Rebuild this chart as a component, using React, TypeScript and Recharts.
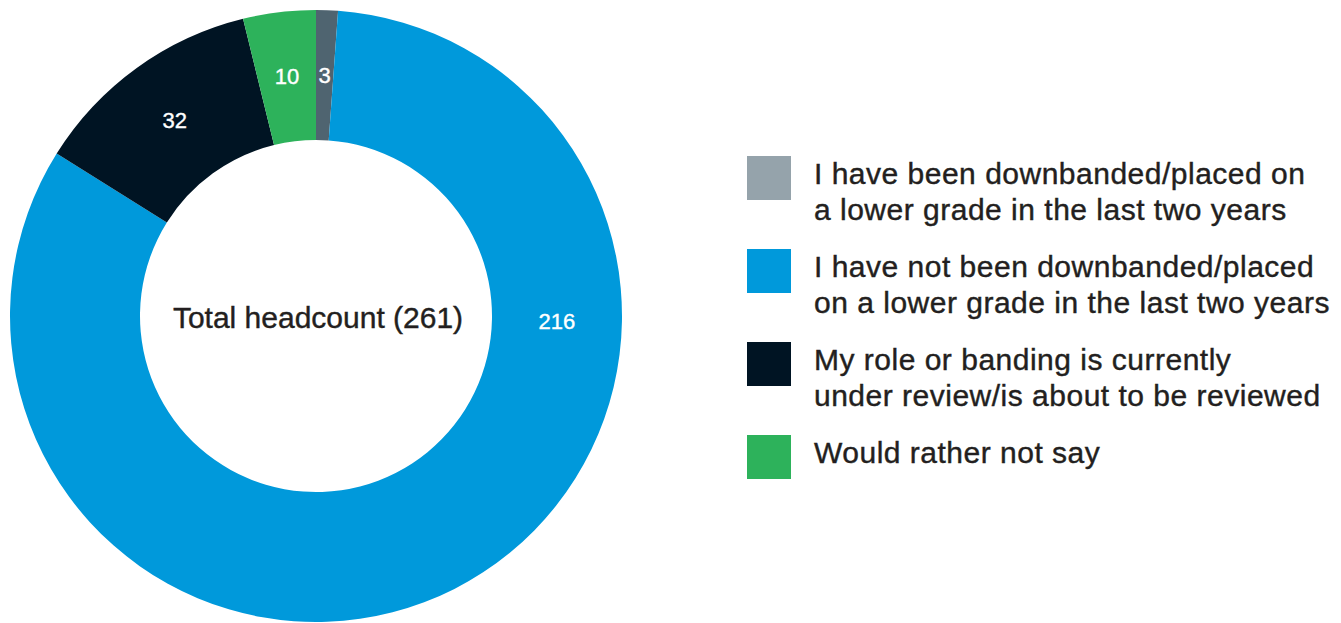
import React from "react";
import { PieChart, Pie, Cell, Legend } from "recharts";

const categories = [
  "I have been downbanded/placed on\na lower grade in the last two years",
  "I have not been downbanded/placed\non a lower grade in the last two years",
  "My role or banding is currently\nunder review/is about to be reviewed",
  "Would rather not say",
];
const values = [3, 216, 32, 10];
const sliceColors = ["#4f6470", "#0099db", "#001423", "#2db25b"];
const legendColors = ["#95a3ab", "#0099db", "#001423", "#2db25b"];
const centerPrefix = "Total headcount";

const data = categories.map((name, i) => ({ name, value: values[i] }));
const total = values.reduce((a, b) => a + b, 0);

const FONT = "'Liberation Sans', Arial, Helvetica, sans-serif";
const TEXT_COLOR = "#231f20";
const RAD = Math.PI / 180;
const labelAngleOverride: Record<number, number> = { 1: -1.3 };

const renderLabel = (props: any) => {
  const { cx, cy, midAngle, innerRadius, outerRadius, value, index } = props;
  const angle = labelAngleOverride[index] ?? midAngle;
  const r = (innerRadius + outerRadius) / 2;
  const x = cx + r * Math.cos(-angle * RAD);
  const y = cy + r * Math.sin(-angle * RAD);
  return (
    <g>
      <text
        x={x}
        y={y}
        fill="#ffffff"
        stroke="#ffffff"
        strokeWidth={0.4}
        textAnchor="middle"
        dominantBaseline="central"
        fontSize={22}
        fontFamily={FONT}
      >
        {value}
      </text>
      {index === 0 && (
        <text
          x={cx + 2}
          y={cy + 1}
          fill={TEXT_COLOR}
          stroke={TEXT_COLOR}
          strokeWidth={0.4}
          textAnchor="middle"
          dominantBaseline="central"
          fontSize={30}
          fontFamily={FONT}
        >
          {`${centerPrefix} (${total})`}
        </text>
      )}
    </g>
  );
};

const renderLegend = () => (
  <div style={{ fontFamily: FONT }}>
    {categories.map((name, i) => (
      <div
        key={i}
        style={{ display: "flex", alignItems: "flex-start", height: 93 }}
      >
        <div
          style={{
            width: 44,
            height: 44,
            background: legendColors[i],
            flex: "0 0 auto",
          }}
        />
        <div
          style={{
            marginLeft: 23,
            marginTop: 0,
            fontSize: 30,
            lineHeight: "36px",
            letterSpacing: "0.5px",
            color: TEXT_COLOR,
            WebkitTextStroke: `0.4px ${TEXT_COLOR}`,
            whiteSpace: "pre-line",
          }}
        >
          {name}
        </div>
      </div>
    ))}
  </div>
);

export default function App() {
  return (
    <div style={{ position: "absolute", left: 0, top: 0 }}>
      <PieChart width={1341} height={623} margin={{ top: 0, right: 0, bottom: 0, left: 0 }}>
        <Pie
          data={data}
          dataKey="value"
          nameKey="name"
          cx={316}
          cy={316}
          innerRadius={176}
          outerRadius={306}
          startAngle={90}
          endAngle={-270}
          stroke="none"
          label={renderLabel}
          labelLine={false}
          isAnimationActive={false}
        >
          {data.map((_, i) => (
            <Cell key={i} fill={sliceColors[i]} />
          ))}
        </Pie>
        <Legend
          content={renderLegend}
          wrapperStyle={{ position: "absolute", left: 747, top: 156, width: 594 }}
        />
      </PieChart>
    </div>
  );
}
